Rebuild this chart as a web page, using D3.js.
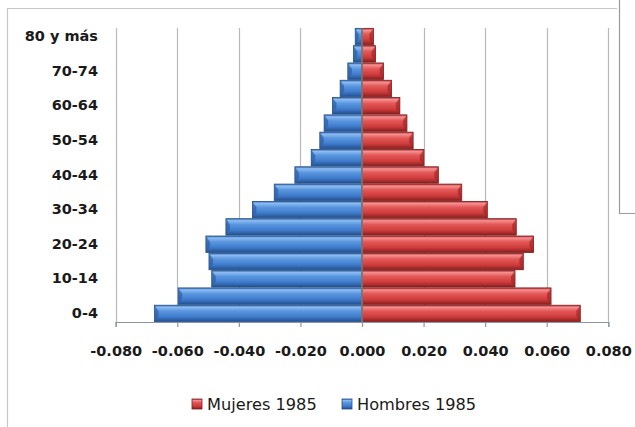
<!DOCTYPE html>
<html>
<head>
<meta charset="utf-8">
<script src="https://cdn.jsdelivr.net/npm/d3@7"></script>
<style>
  body { margin: 0; background: #fff; }
  svg { display: block; }
  text { font-family: "DejaVu Sans", sans-serif; fill: #1a1a1a; }
</style>
</head>
<body>
<script>
// grupos de edad, de abajo hacia arriba
var ages = ['0-4','5-9','10-14','15-19','20-24','25-29','30-34','35-39','40-44',
            '45-49','50-54','55-59','60-64','65-69','70-74','75-79','80 y más'];
// proporciones
var hombres = [0.0674,0.0597,0.0488,0.0497,0.0507,0.0442,0.0356,0.0285,0.0218,
               0.0165,0.0137,0.0123,0.0096,0.0071,0.0046,0.0028,0.0022];
var mujeres = [0.0709,0.0614,0.0497,0.0524,0.0557,0.0501,0.0407,0.0324,0.0248,
               0.0201,0.0166,0.0146,0.0123,0.0096,0.0070,0.0044,0.0037];
var xTicks = [-0.08,-0.06,-0.04,-0.02,0,0.02,0.04,0.06,0.08];
var seriesNames = ['Mujeres 1985','Hombres 1985'];

var width = 635, height = 427;

var svg = d3.select('body').append('svg')
    .attr('width', width)
    .attr('height', height);

// gradientes tipo cilindro
var defs = svg.append('defs');
var makeGrad = function(id, stops){
    var g = defs.append('linearGradient')
        .attr('id', id)
        .attr('x1', 0).attr('y1', 0).attr('x2', 0).attr('y2', 1);
    stops.forEach(function(s){
        g.append('stop').attr('offset', s[0]).attr('stop-color', s[1]);
    });
};
makeGrad('gBlue', [[0,'#3a6fb8'],[0.12,'#8cbcf2'],[0.35,'#5b97df'],[0.7,'#3f7bcb'],[1,'#23508f']]);
makeGrad('gRed',  [[0,'#b33434'],[0.12,'#f69090'],[0.35,'#e45858'],[0.7,'#cf3c3c'],[1,'#8a1f1f']]);

// marcos de fondo
svg.append('path')
    .attr('d', 'M7.5,427 V8.5 H617')
    .attr('fill', 'none').attr('stroke', '#c8c8c8').attr('stroke-width', 1.2);
svg.append('path')
    .attr('d', 'M619.5,0 V213.5 H635')
    .attr('fill', 'none').attr('stroke', '#9a9a9a').attr('stroke-width', 1.2);

var xScale = d3.scaleLinear()
    .domain([-0.08, 0.08])
    .range([115.7, 608.3]);

var yScale = d3.scaleBand()
    .domain(ages.slice().reverse())
    .range([28, 322])
    .paddingInner(0.05)
    .paddingOuter(0.02);

// lineas de division
svg.append('g').selectAll('line')
    .data(xTicks)
    .enter()
    .append('line')
    .attr('x1', function(d){ return Math.round(xScale(d)) + 0.5; })
    .attr('x2', function(d){ return Math.round(xScale(d)) + 0.5; })
    .attr('y1', 28)
    .attr('y2', 322)
    .attr('stroke', '#b9b9b9')
    .attr('stroke-width', 1.2);

// barras hombres (izquierda)
svg.append('g').selectAll('rect')
    .data(ages)
    .enter()
    .append('rect')
    .attr('x', function(d, i){ return xScale(-hombres[i]); })
    .attr('y', function(d){ return yScale(d); })
    .attr('width', function(d, i){ return xScale(0) - xScale(-hombres[i]); })
    .attr('height', yScale.bandwidth())
    .attr('fill', 'url(#gBlue)')
    .attr('stroke', '#234e88')
    .attr('stroke-width', 0.8);

// barras mujeres (derecha)
svg.append('g').selectAll('rect')
    .data(ages)
    .enter()
    .append('rect')
    .attr('x', xScale(0))
    .attr('y', function(d){ return yScale(d); })
    .attr('width', function(d, i){ return xScale(mujeres[i]) - xScale(0); })
    .attr('height', yScale.bandwidth())
    .attr('fill', 'url(#gRed)')
    .attr('stroke', '#7e1c1c')
    .attr('stroke-width', 0.8);

// bisel en los extremos
svg.append('g').selectAll('path')
    .data(ages)
    .enter()
    .append('path')
    .attr('d', function(d, i){
        var x0 = xScale(-hombres[i]), y0 = yScale(d), h = yScale.bandwidth();
        var b = Math.min(4, (xScale(0) - x0) / 2);
        return 'M' + x0 + ',' + y0 + ' L' + (x0 + b) + ',' + (y0 + h * 0.35) +
               ' L' + (x0 + b) + ',' + (y0 + h * 0.65) + ' L' + x0 + ',' + (y0 + h) + 'Z';
    })
    .attr('fill', '#2d5ea3').attr('opacity', 0.7);
svg.append('g').selectAll('path')
    .data(ages)
    .enter()
    .append('path')
    .attr('d', function(d, i){
        var x1 = xScale(mujeres[i]), y0 = yScale(d), h = yScale.bandwidth();
        var b = Math.min(4, (x1 - xScale(0)) / 2);
        return 'M' + x1 + ',' + y0 + ' L' + (x1 - b) + ',' + (y0 + h * 0.35) +
               ' L' + (x1 - b) + ',' + (y0 + h * 0.65) + ' L' + x1 + ',' + (y0 + h) + 'Z';
    })
    .attr('fill', '#9e2828').attr('opacity', 0.7);

// eje de categorias en cero
svg.append('line')
    .attr('x1', xScale(0)).attr('x2', xScale(0))
    .attr('y1', 28).attr('y2', 322)
    .attr('stroke', '#7d7d7d').attr('stroke-width', 1.6);

// eje X
var fmt = d3.format('.3f');
var xAxis = d3.axisBottom(xScale)
    .tickValues(xTicks)
    .tickFormat(function(d){ return fmt(d).replace('\u2212', '-'); })
    .tickSize(5)
    .tickPadding(19);
var gx = svg.append('g')
    .attr('transform', 'translate(0,322)')
    .call(xAxis);
gx.select('.domain').attr('stroke', '#8a96a8').attr('stroke-width', 1.2);
gx.selectAll('.tick line').attr('stroke', '#8a96a8').attr('stroke-width', 1.2);
gx.selectAll('.tick text')
    .attr('font-family', '"DejaVu Sans", sans-serif')
    .attr('font-size', 14.5)
    .attr('font-weight', 'bold')
    .attr('fill', '#1a1a1a');

// etiquetas de edad (una si, una no)
var yAxis = d3.axisLeft(yScale)
    .tickValues(ages.filter(function(d, i){ return i % 2 === 0; }))
    .tickSize(0)
    .tickPadding(0);
var gy = svg.append('g')
    .attr('transform', 'translate(98,0)')
    .call(yAxis);
gy.select('.domain').remove();
gy.selectAll('.tick text')
    .attr('font-family', '"DejaVu Sans", sans-serif')
    .attr('font-size', 14.5)
    .attr('font-weight', 'bold')
    .attr('fill', '#1a1a1a');

// leyenda
var legendX = [192, 342];
var legendFill = ['url(#gRed)', 'url(#gBlue)'];
var legendStroke = ['#7e1c1c', '#234e88'];
var lg = svg.append('g').selectAll('g')
    .data(seriesNames)
    .enter()
    .append('g')
    .attr('transform', function(d, i){ return 'translate(' + legendX[i] + ',399)'; });
lg.append('rect')
    .attr('width', 10).attr('height', 10)
    .attr('fill', function(d, i){ return legendFill[i]; })
    .attr('stroke', function(d, i){ return legendStroke[i]; })
    .attr('stroke-width', 0.8);
lg.append('text')
    .attr('x', 15)
    .attr('y', 11)
    .attr('font-size', 16.2)
    .text(function(d){ return d; });
</script>
</body>
</html>
